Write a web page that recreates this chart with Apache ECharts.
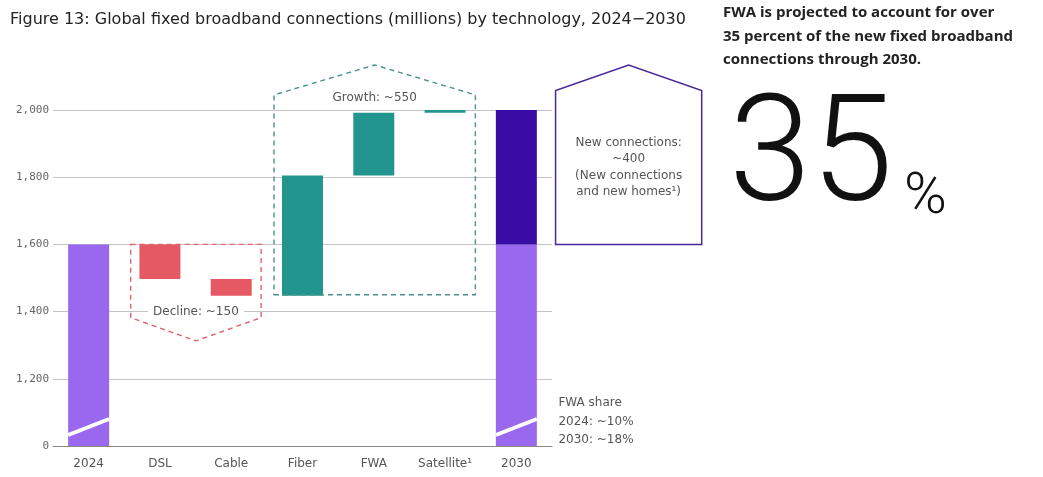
<!DOCTYPE html>
<html>
<head>
<meta charset="utf-8">
<script src="https://cdn.jsdelivr.net/npm/echarts@6/dist/echarts.min.js"></script>
<style>
  html, body { margin: 0; padding: 0; background: #fff; }
  #chart { width: 1043px; height: 477px; }
</style>
</head>
<body>
<div id="chart"></div>
<script>
// Global fixed broadband connections (millions), waterfall 2024 -> 2030
const categories = ['2024', 'DSL', 'Cable', 'Fiber', 'FWA', 'Satellite¹', '2030'];
const start2024 = 1600;                       // connections in 2024
const deltas = [null, -103, -50, 358, 187, 8, null]; // change per technology
const existing2030 = 1600;                    // base carried into 2030
const newConnections2030 = 400;               // new connections and new homes
const yTicks = [0, 1200, 1400, 1600, 1800, 2000];
const declineLabel = 'Decline: ~150';
const growthLabel = 'Growth: ~550';
const newConnLines = ['New connections:', '~400', '(New connections', 'and new homes¹)'];
const fwaShareLines = ['FWA share', '2024: ~10%', '2030: ~18%'];

// Broken value axis: 0..1200 is squeezed into the space of one 200 step
const BREAK_LOW = 1200, BREAK_AXIS = 1000;
function toAxis(v) {
  return v >= BREAK_LOW ? v : BREAK_AXIS + v * (BREAK_LOW - BREAK_AXIS) / BREAK_LOW;
}
function fromAxis(a) {
  return a >= BREAK_LOW ? a : (a - BREAK_AXIS) * BREAK_LOW / (BREAK_LOW - BREAK_AXIS);
}

const COLORS = ['#9a68ee', '#e45963', '#23958f', '#3a0ca6'];
// kind: 0 existing total, 1 decline, 2 growth, 3 new connections
const bars = [];
bars.push([0, 0, start2024, 0]);
let level = start2024;
deltas.forEach((d, i) => {
  if (d === null) return;
  const next = level + d;
  bars.push([i, Math.min(level, next), Math.max(level, next), d < 0 ? 1 : 2]);
  level = next;
});
bars.push([6, 0, existing2030, 0]);
bars.push([6, existing2030, existing2030 + newConnections2030, 3]);

const chart = echarts.init(document.getElementById('chart'), null, { renderer: 'canvas' });
const SANS = '"DejaVu Sans", "Noto Sans", sans-serif';
const MONO = '"DejaVu Sans Mono", monospace';

function renderBar(params, api) {
  const i = api.value(0), lo = api.value(1), hi = api.value(2), kind = api.value(3);
  const pTop = api.coord([i, toAxis(hi)]);
  const pBot = api.coord([i, toAxis(lo)]);
  const w = api.size([1, 0])[0] * 0.575;
  const x0 = pTop[0] - w / 2;
  const children = [{
    type: 'rect',
    shape: { x: x0, y: pTop[1], width: w, height: pBot[1] - pTop[1] },
    style: { fill: COLORS[kind] }
  }];
  if (lo === 0) {
    // axis break marker across the bar
    children.push({
      type: 'line',
      shape: { x1: x0, y1: pBot[1] - 11, x2: x0 + w, y2: pBot[1] - 27 },
      style: { stroke: '#ffffff', lineWidth: 4 }
    });
  }
  return { type: 'group', children };
}

function renderNotes(params, api) {
  const band = api.size([1, 0])[0];
  const cx = (i) => api.coord([i, 1600])[0];
  const cy = (v) => api.coord([0, toAxis(v)])[1];
  const dash = [5, 4];

  // decline bracket over DSL and Cable
  const dL = cx(1) - 0.41 * band, dR = cx(2) + 0.42 * band;
  const dM = (dL + dR) / 2;
  const decline = {
    type: 'polygon',
    shape: { points: [[dL, cy(1600)], [dR, cy(1600)], [dR, cy(1382)], [dM, cy(1313)], [dL, cy(1382)]] },
    style: { fill: null, stroke: '#e2636c', lineWidth: 1.4, lineDash: dash }
  };
  const declineText = {
    type: 'text',
    style: {
      text: declineLabel, x: dM, y: cy(1400), align: 'center', verticalAlign: 'middle',
      font: '12px ' + SANS, fill: '#555', backgroundColor: '#fff', padding: [1, 5]
    }
  };

  // growth bracket over Fiber, FWA and Satellite
  const gL = cx(3) - 0.4 * band, gR = cx(5) + 0.425 * band;
  const gM = (gL + gR) / 2;
  const growth = {
    type: 'polygon',
    shape: { points: [[gL, cy(1450)], [gR, cy(1450)], [gR, cy(2045)], [gM, cy(2134)], [gL, cy(2045)]] },
    style: { fill: null, stroke: '#4a928d', lineWidth: 1.4, lineDash: dash }
  };
  const growthText = {
    type: 'text',
    style: {
      text: growthLabel, x: gM, y: cy(2036), align: 'center', verticalAlign: 'middle',
      font: '12px ' + SANS, fill: '#555'
    }
  };

  // house-shaped callout for new connections
  const hL = cx(6) + 0.55 * band, hR = cx(6) + 2.6 * band;
  const hM = (hL + hR) / 2;
  const hBottom = cy(1600), hShoulder = cy(2058);
  const house = {
    type: 'polygon',
    shape: { points: [[hL, hBottom], [hR, hBottom], [hR, hShoulder], [hM, cy(2134)], [hL, hShoulder]] },
    style: { fill: '#fff', stroke: '#46289a', lineWidth: 1.5 }
  };
  const mid = (hBottom + hShoulder) / 2;
  const houseText = newConnLines.map((t, k) => ({
    type: 'text',
    style: {
      text: t, x: hM, y: mid + (k - (newConnLines.length - 1) / 2) * 16.5,
      align: 'center', verticalAlign: 'middle', font: '12px ' + SANS, fill: '#555'
    }
  }));

  // FWA share note next to the 2030 bar
  const fx = cx(6) + 0.59 * band;
  const fwaText = fwaShareLines.map((t, k) => ({
    type: 'text',
    style: {
      text: t, x: fx, y: cy(0) - 43 + k * 18.5, align: 'left', verticalAlign: 'middle',
      font: '12px ' + SANS, fill: '#555'
    }
  }));

  return {
    type: 'group',
    children: [decline, growth, house, declineText, growthText].concat(houseText, fwaText)
  };
}

chart.setOption({
  animation: false,
  backgroundColor: '#fff',
  title: {
    text: 'Figure 13: Global fixed broadband connections (millions) by technology, 2024\u22122030',
    left: 5, top: 7,
    textStyle: { fontFamily: SANS, fontSize: 16, fontWeight: 'normal', color: '#222' }
  },
  grid: { left: 53, width: 499, top: 110, bottom: 31, containLabel: false },
  xAxis: {
    type: 'category',
    data: categories,
    axisLine: { show: true, lineStyle: { color: '#8a8a8a', width: 1.2 } },
    axisTick: { show: false },
    axisLabel: { margin: 12, fontFamily: SANS, fontSize: 12, color: '#555' },
    splitLine: { show: false }
  },
  yAxis: {
    type: 'value',
    min: toAxis(yTicks[0]),
    max: toAxis(yTicks[yTicks.length - 1]),
    interval: 200,
    axisLine: { show: false },
    axisTick: { show: false },
    axisLabel: {
      margin: 4, fontFamily: MONO, fontSize: 11, color: '#666',
      formatter: (a) => Math.round(fromAxis(a)).toLocaleString('en-US')
    },
    splitLine: { lineStyle: { color: '#c4c4c4', width: 1 } }
  },
  graphic: [
    {
      type: 'text', left: 723, top: 1,
      style: {
        text: 'FWA is projected to account for over\n35 percent of the new fixed broadband\nconnections through 2030.',
        font: 'bold 15px "Open Sans", Lato, sans-serif', fill: '#222', lineHeight: 23.5
      }
    },
    {
      type: 'text', x: 729, y: 237,
      style: {
        text: '35', font: '300 148px Roboto, Inter, Lato, sans-serif', fill: '#111',
        verticalAlign: 'bottom'
      }
    },
    {
      type: 'text', x: 904, y: 169,
      style: {
        text: '%', font: '300 58px Roboto, Inter, Lato, sans-serif', fill: '#111',
        verticalAlign: 'top'
      }
    }
  ],
  series: [
    {
      type: 'custom',
      renderItem: renderBar,
      encode: { x: 0, y: [1, 2] },
      data: bars,
      z: 2
    },
    {
      type: 'custom',
      renderItem: renderNotes,
      data: [[0]],
      clip: false,
      silent: true,
      z: 3
    }
  ]
});
</script>
</body>
</html>
